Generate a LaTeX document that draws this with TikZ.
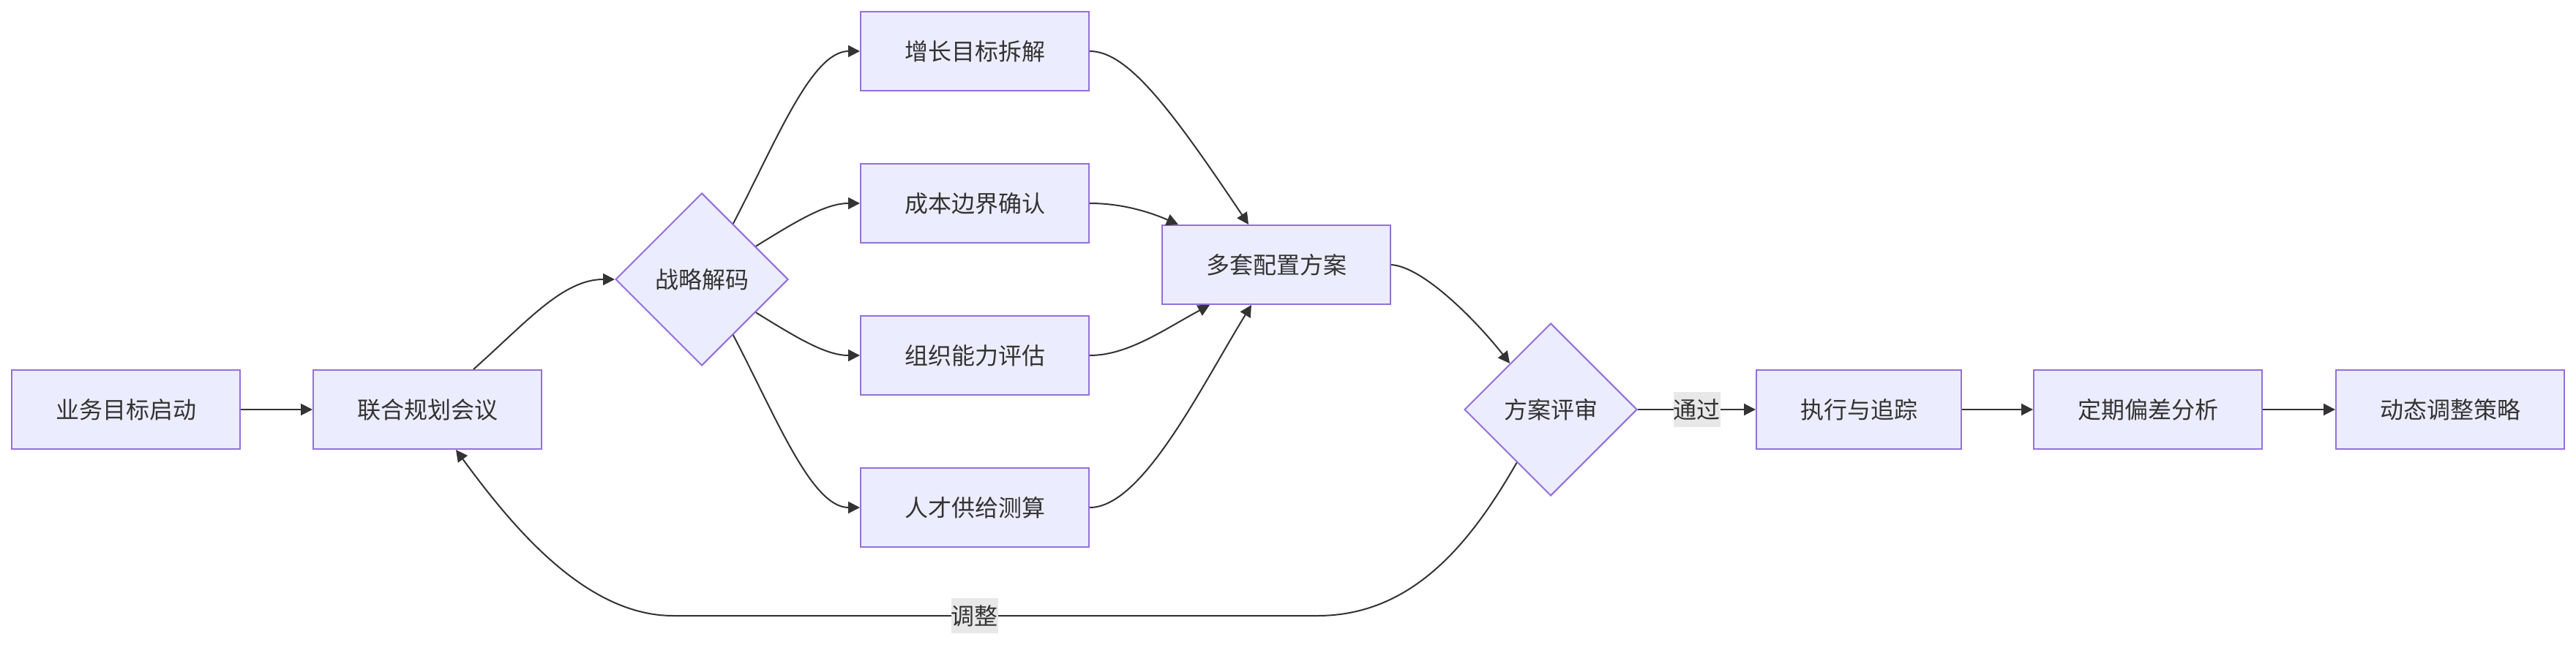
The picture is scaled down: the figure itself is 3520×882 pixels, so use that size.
\documentclass[tikz,border=0pt]{standalone}
\usepackage{fontspec}
\setmainfont{Noto Sans CJK SC}
\usetikzlibrary{shapes.geometric, arrows.meta, positioning, calc}
\definecolor{nodefill}{HTML}{ECECFF}
\definecolor{nodeline}{HTML}{9370DB}
\definecolor{edgeline}{HTML}{333333}
\definecolor{labelbg}{HTML}{E8E8E8}

\begin{document}
\begin{tikzpicture}[x=0.5pt, y=-0.5pt,
  every node/.style={font=\fontsize{16}{19}\selectfont, text=edgeline},
  proc/.style={draw=nodeline, fill=nodefill, line width=1pt, inner xsep=30pt, minimum height=54pt},
  decide/.style={diamond, aspect=1, draw=nodeline, fill=nodefill, line width=1pt, inner sep=0pt, minimum size=118pt},
  elabel/.style={fill=labelbg, inner sep=0pt, minimum height=24pt},
  link/.style={-{Triangle[length=8pt, width=8pt]}, edgeline, line width=1pt}]
\useasboundingbox (0,0) rectangle (3520,882);

% main row
\node[proc] (start) at (172,560) {业务目标启动};
\node[proc] (meet) at (584,560) {联合规划会议};
\node[decide] (decode) at (959,382) {战略解码};
\node[decide] (review) at (2119,560) {方案评审};
\node[proc] (exec) at (2540,560) {执行与追踪};
\node[proc] (drift) at (2935,560) {定期偏差分析};
\node[proc] (adjust) at (3348,560) {动态调整策略};

% decoded branches
\node[proc] (growth) at (1332,70) {增长目标拆解};
\node[proc] (cost) at (1332,278) {成本边界确认};
\node[proc] (org) at (1332,486) {组织能力评估};
\node[proc] (talent) at (1332,694) {人才供给测算};
\node[proc] (plans) at (1744,362) {多套配置方案};

\draw[link] (start) -- (meet);
\draw[link] ([xshift=31.5pt]meet.north) .. controls +(73,-65) and +(-71,0) .. (decode.west);

\draw[link] ($(decode.north)!0.36!(decode.east)$) .. controls +(59,-113) and +(-66,0) .. (growth.west);
\draw[link] ($(decode.north)!0.62!(decode.east)$) .. controls +(58,-36) and +(-46,0) .. (cost.west);
\draw[link] ($(decode.south)!0.62!(decode.east)$) .. controls +(58,36) and +(-46,0) .. (org.west);
\draw[link] ($(decode.south)!0.36!(decode.east)$) .. controls +(59,113) and +(-66,0) .. (talent.west);

\draw[link] (growth.east) .. controls +(52,0) and +(-106,-158) .. ([xshift=-19pt]plans.north);
\draw[link] (cost.east) .. controls +(42,0) and +(-41,-18) .. ([xshift=11.5pt]plans.north west);
\draw[link] (org.east) .. controls +(52,0) and +(-63,34) .. ([xshift=-45.5pt]plans.south);
\draw[link] (talent.east) .. controls +(72,0) and +(-70,114) .. ([xshift=-17pt]plans.south);

\draw[link] (plans.east) .. controls +(45,3) and +(-43,-55) .. ($(review.north)!0.47!(review.west)$);

\draw[link] (review.east) -- node[elabel] {通过} (exec.west);
\draw[link] (exec) -- (drift);
\draw[link] (drift) -- (adjust);

% back to the meeting
\draw[link] ($(review.south)!0.39!(review.west)$) .. controls +(-63,110) and +(130,0) .. (1800,842)
  -- node[elabel, pos=0.532] {调整} (920,842)
  .. controls +(-120,0) and +(77,105) .. ([xshift=19.5pt]meet.south);
\end{tikzpicture}
\end{document}
